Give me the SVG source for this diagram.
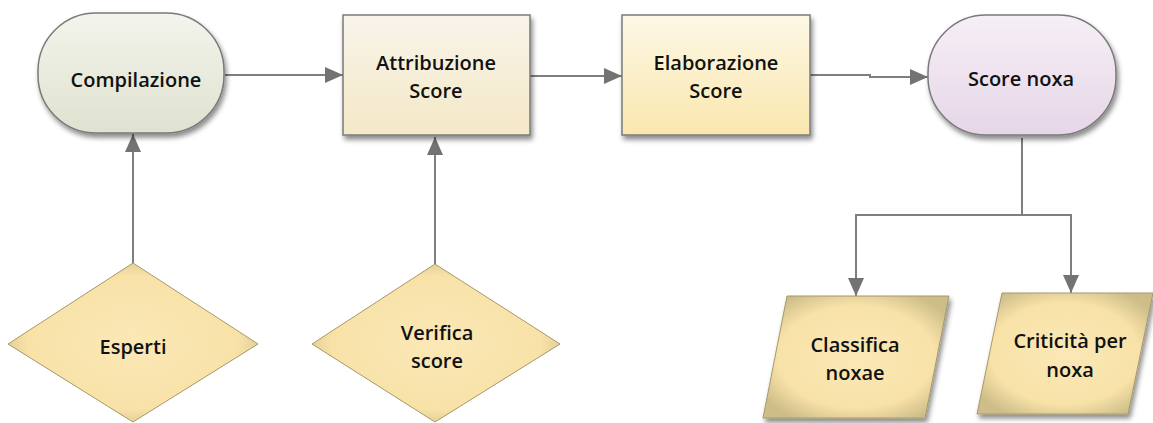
<svg xmlns="http://www.w3.org/2000/svg" width="1153" height="423" viewBox="0 0 1153 423">
<defs>
<style>
.lbl{font-family:"Open Sans","Liberation Sans",sans-serif;font-weight:600;font-size:20px;fill:#111;text-anchor:middle}
.edge{fill:none;stroke:#7f7f7f;stroke-width:2}
.shp{stroke:#7a7a7a;stroke-width:1.5}
.yel{stroke:#a89868;stroke-width:1}
</style>
<filter id="sh" x="-10%" y="-10%" width="125%" height="130%">
<feDropShadow dx="2" dy="4" stdDeviation="2.5" flood-color="#000" flood-opacity="0.45"/>
</filter>
<linearGradient id="gGreen" x1="0" y1="0" x2="0" y2="1">
<stop offset="0" stop-color="#f3f4ec"/><stop offset="1" stop-color="#dfe2cf"/>
</linearGradient>
<linearGradient id="gAttr" x1="0" y1="0" x2="0" y2="1">
<stop offset="0" stop-color="#f8f4ea"/><stop offset="1" stop-color="#f4e8c6"/>
</linearGradient>
<linearGradient id="gElab" x1="0" y1="0" x2="0" y2="1">
<stop offset="0" stop-color="#fdf8e6"/><stop offset="1" stop-color="#fae7ae"/>
</linearGradient>
<linearGradient id="gPink" x1="0" y1="0" x2="0" y2="1">
<stop offset="0" stop-color="#f6eff6"/><stop offset="1" stop-color="#e6d6e8"/>
</linearGradient>
<radialGradient id="gYel" cx="0.5" cy="0.5" r="0.6">
<stop offset="0" stop-color="#fbe8b6"/><stop offset="0.7" stop-color="#f8e2a8"/><stop offset="1" stop-color="#cdbd88"/>
</radialGradient>
<marker id="ah" viewBox="0 0 18 16" refX="18" refY="8" markerWidth="18" markerHeight="16" markerUnits="userSpaceOnUse" orient="auto">
<path d="M0,0 L18,8 L0,16 Z" fill="#737373"/>
</marker>
</defs>

<g id="connectors">
<path class="edge" d="M225,75 H343" marker-end="url(#ah)"/>
<path class="edge" d="M530,76 H622" marker-end="url(#ah)"/>
<path class="edge" d="M810,75 H870 V77 H928" marker-end="url(#ah)"/>
<path class="edge" d="M133,263 V134" marker-end="url(#ah)"/>
<path class="edge" d="M435,264 V137" marker-end="url(#ah)"/>
<path class="edge" d="M1022,138 V215 H856 V296" marker-end="url(#ah)"/>
<path class="edge" d="M1022,215 H1071 V293" marker-end="url(#ah)"/>
</g>

<g id="compilazione">
<rect class="shp" x="38" y="13" width="186" height="120" rx="58" fill="url(#gGreen)" filter="url(#sh)"/>
<text class="lbl" x="136" y="87">Compilazione</text>
</g>

<g id="attribuzione">
<rect class="shp" x="343" y="15" width="187" height="120" fill="url(#gAttr)" filter="url(#sh)"/>
<text class="lbl" x="436" y="70">Attribuzione</text>
<text class="lbl" x="436" y="98">Score</text>
</g>

<g id="elaborazione">
<rect class="shp" x="622" y="15" width="188" height="120" fill="url(#gElab)" filter="url(#sh)"/>
<text class="lbl" x="716" y="70">Elaborazione</text>
<text class="lbl" x="716" y="98">Score</text>
</g>

<g id="score-noxa">
<rect class="shp" x="928" y="15" width="188" height="120" rx="58" fill="url(#gPink)" filter="url(#sh)"/>
<text class="lbl" x="1021" y="86">Score noxa</text>
</g>

<g id="esperti">
<polygon class="yel" points="133,263 258,344 133,422 8,344" fill="url(#gYel)"/>
<text class="lbl" x="133" y="354">Esperti</text>
</g>

<g id="verifica-score">
<polygon class="yel" points="435,264 560,344 435,422 312,344" fill="url(#gYel)"/>
<text class="lbl" x="437" y="340">Verifica</text>
<text class="lbl" x="437" y="368">score</text>
</g>

<g id="classifica-noxae">
<polygon class="yel" points="787,296 949,296 925,418 763,418" fill="url(#gYel)" filter="url(#sh)"/>
<text class="lbl" x="855" y="352">Classifica</text>
<text class="lbl" x="855" y="380">noxae</text>
</g>

<g id="criticita-per-noxa">
<polygon class="yel" points="1002,293 1153,293 1128,414 977,414" fill="url(#gYel)" filter="url(#sh)"/>
<text class="lbl" x="1070" y="348">Criticità per</text>
<text class="lbl" x="1070" y="377">noxa</text>
</g>
</svg>
